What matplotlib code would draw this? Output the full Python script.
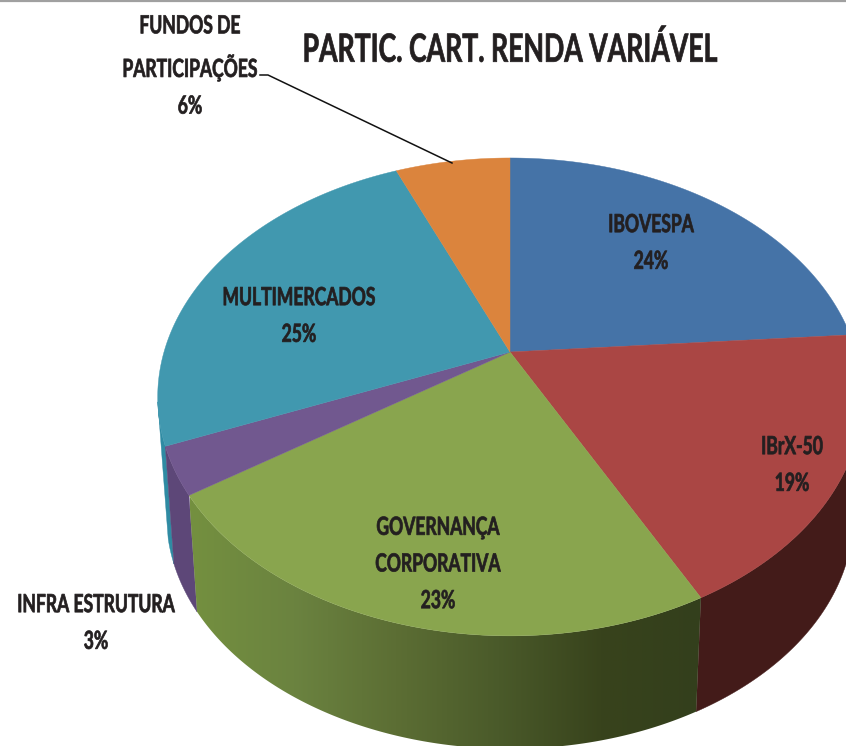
import numpy as np
import matplotlib
matplotlib.use("Agg")
import matplotlib.pyplot as plt
from matplotlib.patches import Polygon
from matplotlib.colors import LinearSegmentedColormap
from matplotlib.patheffects import AbstractPathEffect
from matplotlib.text import Text
from matplotlib.transforms import Affine2D, Bbox

title = "PARTIC. CART. RENDA VARIÁVEL"
categories = ["IBOVESPA", "IBrX-50", "GOVERNANÇA\nCORPORATIVA", "INFRA ESTRUTURA", "MULTIMERCADOS", "FUNDOS DE\nPARTICIPAÇÕES"]
values = [23.8, 18.6, 23.2, 3.2, 24.9, 6.3]
top_colors = ["#4573a7", "#aa4644", "#89a54e", "#71588f", "#4198af", "#db843d"]
wall_colors = ["#2c4566", "#431b19", "#5f7236", "#5d4778", "#2f8ba3", "#8a5226"]

# layout (pixel space of the 846x746 figure)
CX, CY, A, B, K = 510.0, 352.0, 346.0, 230.5, 0.188
SCALE, CY_LOW = 0.975, 472.0
label_pos = [(651, 243), (792, 465), (438, 564), (96, 623), (299, 316), (190, 66)]
FONT = ["Lato", "DejaVu Sans"]


class Narrow(AbstractPathEffect):
    """Squeeze the glyphs of a text horizontally around its centre."""

    def __init__(self, cx, sx):
        super().__init__()
        self.cx, self.sx = cx, sx

    def draw_path(self, renderer, gc, tpath, affine, rgbFace=None):
        squeezed = affine + Affine2D().translate(-self.cx, 0).scale(self.sx, 1).translate(self.cx, 0)
        gc2 = renderer.new_gc()
        gc2.copy_properties(gc)
        gc2.set_foreground(rgbFace)
        gc2.set_linewidth(0.5)
        renderer.draw_path(gc2, tpath, squeezed, rgbFace)
        gc2.restore()


class NarrowText(Text):
    narrow = 1.0

    def get_window_extent(self, renderer=None, dpi=None):
        bb = super().get_window_extent(renderer, dpi)
        c = 0.5 * (bb.x0 + bb.x1)
        return Bbox([[c + (bb.x0 - c) * self.narrow, bb.y0], [c + (bb.x1 - c) * self.narrow, bb.y1]])


def put_text(x, y, s, size, narrow, spacing=1.2):
    t = NarrowText(x, y, s, ha="center", va="center", family=FONT, fontweight="bold",
                   fontsize=size, color="#231f20", linespacing=spacing, zorder=5)
    t.narrow = narrow
    ax.add_artist(t)
    t.set_path_effects([Narrow(x, narrow)])


fig = plt.figure(figsize=(8.46, 7.46), dpi=100)
ax = fig.add_axes([0, 0, 1, 1])
ax.set_xlim(0, 846)
ax.set_ylim(746, 0)
ax.axis("off")


def rim(theta_deg, lower=False):
    t = np.radians(theta_deg)
    u, v = np.sin(t), np.cos(t)
    w = 1 + K * v
    dx, dy = A * u / w, -B * v / w
    if lower:
        return CX + SCALE * dx, CY_LOW + SCALE * dy
    return CX + dx, CY + dy


fractions = np.array(values) / sum(values)
edges = np.concatenate([[0], np.cumsum(fractions)]) * 360

# side walls, only the part facing the viewer
for i in [4, 3, 1, 2]:
    a0, a1 = edges[i], edges[i + 1]
    if i == 4:
        a1 = 258
    th = np.linspace(a0, a1, 200)
    x0, y0 = rim(th)
    x1, y1 = rim(th, lower=True)
    if i == 4:
        keep = th <= a0 + 6
        x1, y1 = x1[keep], y1[keep]
    pts = np.column_stack([np.r_[x0, x1[::-1]], np.r_[y0, y1[::-1]]])
    if i == 2:
        cmap = LinearSegmentedColormap.from_list(
            "wall", ["#74903f", "#6b8340", "#5c6e34", "#4a5a2a", "#38431c", "#333f1c"])
        poly = Polygon(pts, closed=True, fc="none", ec="none", transform=ax.transData)
        ax.add_patch(poly)
        grad = np.linspace(0, 1, 256)[None, :]
        im = ax.imshow(grad, cmap=cmap, extent=(190, 705, 746, 490), aspect="auto", zorder=2)
        im.set_clip_path(poly)
    else:
        ax.add_patch(Polygon(pts, closed=True, fc=wall_colors[i], ec=wall_colors[i], lw=0.3, zorder=2))

ax.set_xlim(0, 846)
ax.set_ylim(746, 0)

# top face
for i in range(len(values)):
    th = np.linspace(edges[i], edges[i + 1], 200)
    x, y = rim(th)
    pts = np.column_stack([np.r_[CX, x], np.r_[CY, y]])
    ax.add_patch(Polygon(pts, closed=True, fc=top_colors[i], ec=top_colors[i], lw=0.3, zorder=3))

# labels
for name, val, (lx, ly) in zip(categories, values, label_pos):
    put_text(lx, ly, f"{name}\n{round(val)}%", 18, 0.70, 1.72)

put_text(510, 50, title, 28, 0.685)

# leader line and top rule
ax.plot([260, 268, 452], [75, 75, 163], color="#111111", lw=1.1, zorder=4)
ax.plot([0, 846], [0.8, 0.8], color="#a0a0a0", lw=1.6, zorder=6, clip_on=True)

fig.savefig("out.png", dpi=100, facecolor="white")
